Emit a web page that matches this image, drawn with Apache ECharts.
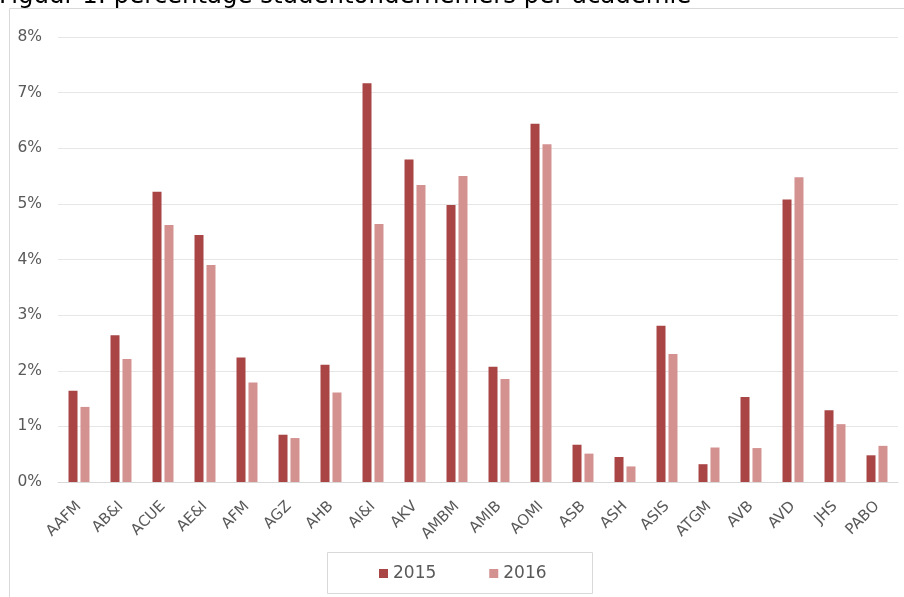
<!DOCTYPE html>
<html>
<head>
<meta charset="utf-8">
<script src="https://cdn.jsdelivr.net/npm/echarts@6/dist/echarts.min.js"></script>
<style>
  html, body { margin: 0; padding: 0; background: #fff; }
  #chart { width: 904px; height: 597px; }
</style>
</head>
<body>
<div id="chart"></div>
<script>
// academies
const academies = ['AAFM', 'AB&I', 'ACUE', 'AE&I', 'AFM', 'AGZ', 'AHB', 'AI&I', 'AKV', 'AMBM',
  'AMIB', 'AOMI', 'ASB', 'ASH', 'ASIS', 'ATGM', 'AVB', 'AVD', 'JHS', 'PABO'];

// percentage studentondernemers
const values2015 = [1.64, 2.64, 5.22, 4.44, 2.24, 0.85, 2.11, 7.17, 5.80, 4.98,
  2.07, 6.44, 0.67, 0.45, 2.81, 0.32, 1.53, 5.08, 1.29, 0.48];
const values2016 = [1.35, 2.21, 4.62, 3.90, 1.79, 0.79, 1.61, 4.64, 5.34, 5.50,
  1.85, 6.07, 0.51, 0.28, 2.30, 0.62, 0.61, 5.48, 1.04, 0.65];

const seriesNames = ['2015', '2016'];
const titleText = 'Figuur 1: percentage studentondernemers per academie';

const chart = echarts.init(document.getElementById('chart'));
const font = 'DejaVu Sans';

const option = {
  animation: false,
  textStyle: { fontFamily: font },
  graphic: [
    {
      type: 'rect',
      shape: { x: 9.5, y: 8.5, width: 1000, height: 700 },
      style: { fill: 'none', stroke: '#d9d9d9', lineWidth: 1 },
      silent: true
    },
    {
      type: 'rect',
      shape: { x: 327.5, y: 552.5, width: 265, height: 41 },
      style: { fill: '#fff', stroke: '#d9d9d9', lineWidth: 1 },
      silent: true
    },
    {
      type: 'text',
      left: -1,
      top: -15,
      style: {
        text: titleText,
        fontSize: 24.4,
        fontFamily: font,
        fill: '#000'
      },
      silent: true
    }
  ],
  grid: {
    left: 58,
    right: 6,
    top: 37,
    bottom: 115
  },
  legend: {
    data: seriesNames,
    left: 379,
    top: 565,
    padding: 0,
    icon: 'rect',
    itemWidth: 9,
    itemHeight: 9,
    itemGap: 53,
    textStyle: { fontSize: 17, color: '#595959', fontFamily: font }
  },
  xAxis: {
    type: 'category',
    data: academies,
    axisLine: { lineStyle: { color: '#d9d9d9' } },
    axisTick: { show: false },
    axisLabel: {
      rotate: 45,
      interval: 0,
      margin: 22,
      fontSize: 15,
      fontFamily: font,
      color: '#595959'
    }
  },
  yAxis: {
    type: 'value',
    min: 0,
    max: 8,
    interval: 1,
    axisLine: { show: false },
    axisTick: { show: false },
    splitLine: { lineStyle: { color: '#e6e6e6' } },
    axisLabel: {
      formatter: '{value}%',
      fontSize: 15.5,
      fontFamily: font,
      color: '#595959',
      margin: 16
    }
  },
  series: [
    {
      name: seriesNames[0],
      type: 'bar',
      data: values2015,
      barWidth: 9,
      barGap: '33%',
      itemStyle: { color: '#a94545' }
    },
    {
      name: seriesNames[1],
      type: 'bar',
      data: values2016,
      barWidth: 9,
      barGap: '33%',
      itemStyle: { color: '#d39190' }
    }
  ]
};

chart.setOption(option);
window.addEventListener('resize', function () {
  chart.resize();
});
</script>
</body>
</html>
